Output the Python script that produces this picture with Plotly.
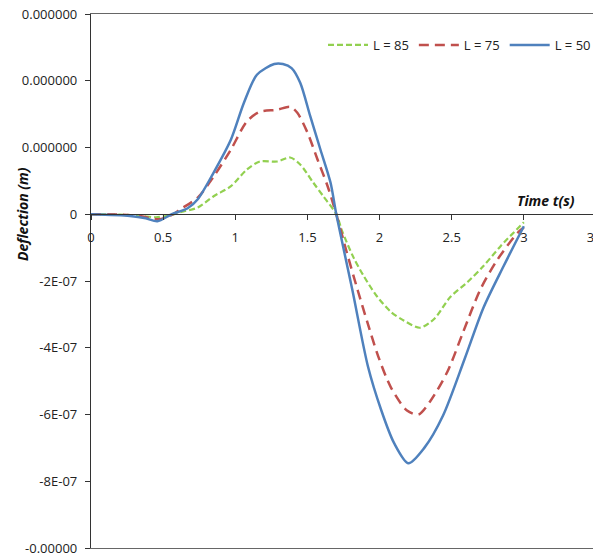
import plotly.graph_objects as go

# ---- data ----
t_85 = [0, 0.2, 0.35, 0.45, 0.55, 0.62, 0.74, 0.85, 0.97, 1.08, 1.17, 1.29, 1.38, 1.45, 1.54, 1.61, 1.70, 1.74, 1.82, 1.89, 1.98, 2.08, 2.17, 2.28, 2.38, 2.49, 2.61, 2.72, 2.84, 3.0]
y_85 = [0, -1e-9, -5e-9, -9e-9, -3e-9, 6e-9, 2.0e-8, 5.4e-8, 8.4e-8, 1.34e-7, 1.58e-7, 1.58e-7, 1.70e-7, 1.49e-7, 9.5e-8, 5.4e-8, 0, -5.0e-8, -1.3e-7, -1.85e-7, -2.45e-7, -2.93e-7, -3.19e-7, -3.40e-7, -3.13e-7, -2.48e-7, -2.03e-7, -1.55e-7, -9.5e-8, -2.4e-8]

t_75 = [0, 0.2, 0.35, 0.47, 0.57, 0.62, 0.74, 0.85, 0.97, 1.08, 1.17, 1.29, 1.38, 1.43, 1.50, 1.57, 1.64, 1.70, 1.77, 1.85, 1.92, 1.99, 2.08, 2.19, 2.27, 2.35, 2.47, 2.58, 2.70, 2.82, 2.96, 3.0]
y_75 = [0, -1e-9, -6e-9, -1.5e-8, 0, 1.5e-8, 5.0e-8, 1.13e-7, 1.94e-7, 2.78e-7, 3.07e-7, 3.13e-7, 3.22e-7, 3.04e-7, 2.45e-7, 1.64e-7, 8.4e-8, 0, -1.1e-7, -2.3e-7, -3.3e-7, -4.25e-7, -5.2e-7, -5.88e-7, -6.00e-7, -5.61e-7, -4.72e-7, -3.52e-7, -2.24e-7, -1.34e-7, -5.4e-8, -4.0e-8]

t_50 = [0, 0.27, 0.38, 0.46, 0.56, 0.67, 0.74, 0.85, 0.97, 1.06, 1.15, 1.27, 1.33, 1.39, 1.45, 1.52, 1.59, 1.66, 1.70, 1.81, 1.92, 2.01, 2.10, 2.20, 2.31, 2.44, 2.59, 2.72, 2.86, 3.0]
y_50 = [0, -5e-9, -1.2e-8, -2.1e-8, 0, 1.8e-8, 4.5e-8, 1.25e-7, 2.24e-7, 3.34e-7, 4.18e-7, 4.50e-7, 4.50e-7, 4.38e-7, 3.94e-7, 2.93e-7, 1.94e-7, 9.5e-8, 0, -2.24e-7, -4.57e-7, -5.85e-7, -6.85e-7, -7.46e-7, -7.00e-7, -6.03e-7, -4.33e-7, -2.80e-7, -1.55e-7, -3.6e-8]

series_names = ["L = 85", "L = 75", "L = 50"]

x_tickvals = [0, 0.5, 1, 1.5, 2, 2.5, 3, 3.5]
x_ticktext = ["0", "0.5", "1", "1.5", "2", "2.5", "3", "3.5"]
y_tickvals = [6e-7, 4e-7, 2e-7, 0, -2e-7, -4e-7, -6e-7, -8e-7, -1e-6]
y_ticktext = ["0.000000", "0.000000", "0.000000", "0", "-2E-07", "-4E-07", "-6E-07", "-8E-07", "-0.00000"]

FONT = "Open Sans"

fig = go.Figure()
fig.add_trace(go.Scatter(x=t_85, y=y_85, name=series_names[0], mode="lines",
                         line=dict(color="#92D050", width=2.2, dash="6px,3px", shape="spline", smoothing=0.8)))
fig.add_trace(go.Scatter(x=t_75, y=y_75, name=series_names[1], mode="lines",
                         line=dict(color="#C0504D", width=2.5, dash="10px,6px", shape="spline", smoothing=0.8)))
fig.add_trace(go.Scatter(x=t_50, y=y_50, name=series_names[2], mode="lines",
                         line=dict(color="#4F81BD", width=2.5, shape="spline", smoothing=0.8)))
# invisible helper trace on a frame axis (draws top/bottom border lines)
fig.add_trace(go.Scatter(x=[None], y=[None], xaxis="x2", showlegend=False, hoverinfo="skip"))

# the page body adds an 8px offset, so the figure is sized/margined to compensate
fig.update_layout(
    width=593, height=550,
    margin=dict(l=83, r=5, t=6, b=10, autoexpand=False),
    paper_bgcolor="white", plot_bgcolor="white",
    font=dict(family=FONT, size=12, color="#222"),
    showlegend=True,
    legend=dict(orientation="h", x=1.0, xanchor="right", y=0.942, yanchor="middle",
                bgcolor="rgba(0,0,0,0)", font=dict(size=13, color="#222"),
                itemwidth=40, tracegroupgap=0),
    xaxis=dict(range=[0, 3.5], tickvals=x_tickvals, ticktext=x_ticktext,
               showgrid=False, zeroline=False, showline=True, linecolor="#333", linewidth=1.3,
               ticks="outside", ticklen=5, tickcolor="#333", ticklabeloverflow="allow",
               ticklabelstandoff=6,
               anchor="free", position=0.625, tickfont=dict(size=13)),
    xaxis2=dict(range=[0, 3.5], overlaying="x", anchor="y", side="bottom",
                showgrid=False, zeroline=False, showline=True, mirror=True,
                linecolor="#666", linewidth=1.3, showticklabels=False, ticks=""),
    yaxis=dict(range=[-1e-6, 6e-7], tickvals=y_tickvals, ticktext=y_ticktext,
               showgrid=False, zeroline=False, showline=True, mirror=True,
               linecolor="#333", linewidth=1.3, ticklabeloverflow="allow",
               ticklabelstandoff=5,
               ticks="outside", ticklen=5, tickcolor="#333", tickfont=dict(size=13)),
)

fig.add_annotation(text="<b><i>Time t(s)</i></b>", x=3.15, y=0, xref="x", yref="y",
                   yanchor="bottom", yshift=2, showarrow=False, font=dict(size=14, color="#111"))
fig.add_annotation(text="<b><i>Deflection (m)</i></b>", x=-0.137, y=0.625, xref="paper", yref="paper",
                   xanchor="center", yanchor="middle",
                   textangle=-90, showarrow=False, font=dict(size=14, color="#111"))

fig.write_html("out.html")
